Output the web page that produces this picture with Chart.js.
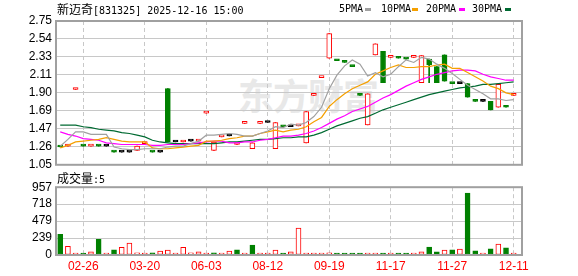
<!DOCTYPE html>
<html lang="zh-CN">
<head>
  <meta charset="UTF-8" />
  <title>新迈奇 831325</title>
  <script src="https://cdn.jsdelivr.net/npm/chart.js"></script>
  <style>
    body { margin: 0; background: #fff; }
    #wrap {
      position: relative;
      width: 578px;
      height: 276px;
      overflow: hidden;
      font-family: 'DejaVu Sans Mono', monospace;
      color: #000;
    }
    #wrap canvas { position: absolute; left: 0; }
    #priceChart { top: 0; }
    #volChart { top: 176px; }
    .lbl { position: absolute; font-size: 10px; line-height: 12px; white-space: pre; }
    .cjk { font-family: 'Noto Sans CJK SC', sans-serif; font-size: 12px; }
    .key { position: absolute; width: 6px; height: 3px; }
    #mark {
      position: absolute;
      left: 238px;
      top: 68px;
      font: bold 36px 'Noto Sans CJK SC', sans-serif;
      color: #e8e8e8;
      letter-spacing: -1px;
    }
  </style>
</head>
<body>
  <div id="wrap">
    <div id="mark">东方财富</div>
    <canvas id="priceChart" width="578" height="176"></canvas>
    <canvas id="volChart" width="578" height="100"></canvas>

    <div class="lbl" style="left:57px;top:3px"><span class="cjk">新迈奇</span>[831325] 2025-12-16 15:00</div>

    <div class="lbl" style="left:339px;top:3px">5PMA</div>
    <div class="key" style="left:365px;top:8px;background:#a0a0a0"></div>
    <div class="lbl" style="left:381px;top:3px">10PMA</div>
    <div class="key" style="left:412px;top:8px;background:#f5a000"></div>
    <div class="lbl" style="left:426px;top:3px">20PMA</div>
    <div class="key" style="left:459px;top:8px;background:#ff00ff"></div>
    <div class="lbl" style="left:472px;top:3px">30PMA</div>
    <div class="key" style="left:505px;top:8px;background:#006a32"></div>

    <div class="lbl" id="volLbl" style="left:57px;top:172px"></div>
  </div>

  <script>
    // tick labels
    const priceTickLabels = ['1.05', '1.26', '1.47', '1.69', '1.90', '2.11', '2.33', '2.54', '2.75'];
    const volTickLabels = ['0', '239', '479', '718', '957'];
    const dateTickIdx = [3, 11, 19, 27, 35, 43, 51, 59];
    const dateTickLabels = ['02-26', '03-20', '06-03', '08-12', '09-19', '11-17', '11-27', '12-11'];

    // daily k-line, one entry per trading day
    const openP = [
      1.27, 1.27, 1.94, 1.28, 1.27, 1.28, 1.27, 1.21, 1.20, 1.20,
      1.22, 1.30, 1.21, 1.20, 1.95, 1.32, 1.32, 1.33, 1.33, 1.66,
      1.22, 1.38, 1.39, 1.29, 1.54, 1.24, 1.54, 1.55, 1.24, 1.51,
      1.50, 1.51, 1.31, 1.87, 2.08, 2.31, 2.29, 2.27, 2.22, 1.88,
      1.52, 2.35, 2.39, 2.32, 2.32, 2.31, 2.32, 2.02, 2.30, 2.21,
      2.35, 2.02, 2.01, 2.01, 1.81, 1.80, 1.80, 1.73, 1.74, 1.87
    ];
    const closeP = [
      1.26, 1.29, 1.95, 1.27, 1.28, 1.27, 1.27, 1.20, 1.20, 1.20,
      1.27, 1.31, 1.20, 1.20, 1.32, 1.32, 1.33, 1.33, 1.34, 1.67,
      1.32, 1.39, 1.39, 1.30, 1.55, 1.31, 1.55, 1.55, 1.55, 1.50,
      1.50, 1.52, 1.68, 1.88, 2.09, 2.60, 2.28, 2.26, 2.21, 1.87,
      1.89, 2.48, 2.02, 2.33, 2.31, 2.30, 2.33, 2.34, 2.23, 2.02,
      2.04, 2.01, 2.01, 1.85, 1.80, 1.80, 1.70, 2.00, 1.73, 1.88
    ];
    const highP = [
      1.27, 1.29, 1.95, 1.28, 1.28, 1.28, 1.27, 1.21, 1.20, 1.20,
      1.27, 1.31, 1.21, 1.20, 1.95, 1.32, 1.33, 1.33, 1.34, 1.67,
      1.32, 1.39, 1.39, 1.30, 1.55, 1.31, 1.55, 1.55, 1.55, 1.51,
      1.50, 1.52, 1.68, 1.88, 2.09, 2.60, 2.29, 2.27, 2.22, 1.88,
      1.89, 2.48, 2.39, 2.33, 2.32, 2.31, 2.33, 2.34, 2.30, 2.21,
      2.35, 2.02, 2.01, 2.01, 1.81, 1.80, 1.80, 2.00, 1.74, 1.88
    ];
    const lowP = [
      1.26, 1.27, 1.94, 1.27, 1.27, 1.27, 1.27, 1.20, 1.20, 1.20,
      1.22, 1.30, 1.20, 1.20, 1.32, 1.32, 1.32, 1.33, 1.33, 1.66,
      1.22, 1.38, 1.39, 1.29, 1.54, 1.24, 1.54, 1.55, 1.24, 1.50,
      1.50, 1.51, 1.31, 1.87, 2.08, 2.31, 2.28, 2.26, 2.21, 1.87,
      1.52, 2.35, 2.02, 2.32, 2.31, 2.30, 2.32, 2.02, 2.02, 2.02,
      2.04, 2.01, 2.01, 1.85, 1.80, 1.80, 1.70, 1.73, 1.73, 1.87
    ];
    const volume = [
      290, 122, 15, 15, 45, 222, 15, 72, 109, 168,
      32, 15, 32, 54, 68, 12, 109, 32, 45, 12,
      32, 12, 54, 72, 12, 140, 12, 12, 68, 10,
      45, 380, 12, 12, 12, 32, 12, 12, 12, 12,
      12, 12, 12, 12, 12, 12, 12, 45, 113, 45,
      68, 72, 82, 874, 59, 12, 86, 154, 100, 5
    ];

    // moving averages as drawn
    const ma5 = [
      1.27, 1.35, 1.44, 1.44, 1.41, 1.41, 1.41, 1.26, 1.24, 1.23,
      1.23, 1.24, 1.24, 1.24, 1.26, 1.27, 1.27, 1.30, 1.33, 1.40,
      1.40, 1.41, 1.42, 1.41, 1.39, 1.39, 1.42, 1.45, 1.50, 1.49,
      1.53, 1.52, 1.55, 1.62, 1.73, 1.95, 2.11, 2.22, 2.29, 2.24,
      2.10, 2.14, 2.09, 2.12, 2.21, 2.29, 2.26, 2.32, 2.30, 2.24,
      2.19, 2.13, 2.06, 1.99, 1.94, 1.89, 1.83, 1.83, 1.81, 1.82
    ];
    const ma10 = [
      1.25, 1.28, 1.32, 1.33, 1.34, 1.35, 1.37, 1.35, 1.33, 1.32,
      1.32, 1.32, 1.25, 1.24, 1.24, 1.25, 1.26, 1.27, 1.28, 1.33,
      1.33, 1.34, 1.36, 1.37, 1.39, 1.39, 1.42, 1.44, 1.46, 1.44,
      1.46, 1.47, 1.50, 1.56, 1.61, 1.74, 1.82, 1.89, 1.95, 1.99,
      2.03, 2.12, 2.16, 2.20, 2.23, 2.20, 2.20, 2.21, 2.21, 2.23,
      2.24, 2.19, 2.19, 2.14, 2.09, 2.04, 1.98, 1.95, 1.90, 1.88
    ];
    const ma20 = [
      1.44, 1.41, 1.39, 1.36, 1.35, 1.34, 1.31, 1.30, 1.29, 1.29,
      1.29, 1.29, 1.28, 1.28, 1.29, 1.29, 1.29, 1.30, 1.31, 1.32,
      1.33, 1.33, 1.31, 1.31, 1.32, 1.32, 1.34, 1.35, 1.37, 1.39,
      1.39, 1.40, 1.42, 1.45, 1.49, 1.54, 1.59, 1.63, 1.68, 1.71,
      1.74, 1.79, 1.84, 1.88, 1.93, 1.98, 2.02, 2.06, 2.09, 2.12,
      2.14, 2.16, 2.17, 2.17, 2.16, 2.12, 2.09, 2.07, 2.05, 2.05
    ];
    const ma30 = [
      1.52, 1.52, 1.52, 1.50, 1.49, 1.47, 1.46, 1.45, 1.43, 1.42,
      1.40, 1.38, 1.34, 1.32, 1.31, 1.30, 1.30, 1.30, 1.30, 1.30,
      1.30, 1.31, 1.32, 1.32, 1.33, 1.34, 1.35, 1.35, 1.36, 1.37,
      1.37, 1.38, 1.38, 1.40, 1.43, 1.47, 1.51, 1.54, 1.57, 1.60,
      1.62, 1.66, 1.70, 1.73, 1.76, 1.79, 1.82, 1.85, 1.88, 1.90,
      1.92, 1.94, 1.96, 1.97, 1.98, 2.00, 2.00, 2.01, 2.02, 2.03
    ];

    const RED = '#ff0000', GREEN = '#008000', BLACK = '#000000';
    const idx = closeP.map((c, i) => i);

    // candle colour: close vs open; volume colour: close vs previous close
    const candleColor = closeP.map((c, i) => c > openP[i] ? RED : (c < openP[i] ? GREEN : BLACK));
    const bodyFill = candleColor.map(c => c === RED ? '#ffffff' : c);
    const volColor = closeP.map((c, i) => c < (i ? closeP[i - 1] : openP[i]) ? GREEN : RED);
    const volFill = volColor.map(c => c === RED ? '#ffffff' : c);

    document.getElementById('volLbl').innerHTML =
      '<span class="cjk">成交量</span>:' + volume[volume.length - 1];

    Chart.defaults.font.family = "'Liberation Sans', Arial, sans-serif";
    Chart.defaults.font.size = 12;
    Chart.defaults.color = '#000';

    const GRID = '#c8c8c8';
    const X_MIN = -0.55, X_MAX = 60.08;

    // grey box round the plot area
    const frame = {
      id: 'frame',
      afterDraw(chart) {
        const a = chart.chartArea, ctx = chart.ctx;
        ctx.save();
        ctx.strokeStyle = '#a0a0a0';
        ctx.lineWidth = 2;
        ctx.strokeRect(a.left, a.top, a.right - a.left, a.bottom - a.top);
        ctx.restore();
      }
    };

    function dayAxis(showLabels, height) {
      return {
        type: 'linear',
        min: X_MIN,
        max: X_MAX,
        offset: false,
        afterBuildTicks: s => { s.ticks = dateTickIdx.map(v => ({ value: v })); },
        afterFit: s => { s.height = height; },
        ticks: {
          display: showLabels,
          autoSkip: false,
          maxRotation: 0,
          padding: 4,
          color: RED,
          callback: v => dateTickLabels[dateTickIdx.indexOf(v)]
        },
        grid: { offset: false, color: GRID, drawTicks: false, borderDash: [4, 3] },
        border: { display: false, dash: [4, 3] }
      };
    }

    function valueAxis(min, max, labels) {
      const step = (max - min) / (labels.length - 1);
      return {
        min: min,
        max: max,
        beginAtZero: false,
        afterBuildTicks: s => { s.ticks = labels.map((l, k) => ({ value: min + k * step })); },
        afterFit: s => { s.width = 56; },
        ticks: { autoSkip: false, padding: 4, callback: (v, k) => labels[k] },
        grid: { color: GRID, drawTicks: false },
        border: { display: false }
      };
    }

    const common = {
      responsive: false,
      animation: false,
      events: [],
      plugins: { legend: { display: false }, tooltip: { enabled: false } }
    };

    function maLine(label, values, color) {
      return {
        type: 'line',
        label: label,
        data: idx.map(i => ({ x: i, y: values[i] })),
        borderColor: color,
        borderWidth: 1.2,
        pointRadius: 0,
        tension: 0,
        order: 0
      };
    }

    new Chart(document.getElementById('priceChart'), {
      type: 'bar',
      data: {
        datasets: [
          maLine('5PMA', ma5, '#a0a0a0'),
          maLine('10PMA', ma10, '#f5a000'),
          maLine('20PMA', ma20, '#ff00ff'),
          maLine('30PMA', ma30, '#006a32'),
          {
            label: 'body',
            data: idx.map(i => ({ x: i, y: [openP[i], closeP[i]] })),
            backgroundColor: bodyFill,
            borderColor: candleColor,
            borderWidth: 1,
            borderSkipped: false,
            barThickness: 5,
            minBarLength: 2,
            grouped: false,
            order: 1
          },
          {
            label: 'wick',
            data: idx.map(i => ({ x: i, y: [lowP[i], highP[i]] })),
            backgroundColor: candleColor,
            barThickness: 1,
            grouped: false,
            order: 2
          }
        ]
      },
      options: Object.assign({}, common, {
        layout: { padding: { top: 21, right: 56, bottom: 11, left: 0 } },
        scales: {
          x: dayAxis(false, 0),
          y: valueAxis(1.05, 2.75, priceTickLabels)
        }
      }),
      plugins: [frame]
    });

    new Chart(document.getElementById('volChart'), {
      type: 'bar',
      data: {
        datasets: [{
          label: 'volume',
          data: idx.map(i => ({ x: i, y: volume[i] })),
          backgroundColor: volFill,
          borderColor: volColor,
          borderWidth: 1,
          borderSkipped: false,
          barThickness: 5,
          minBarLength: 2,
          grouped: false
        }]
      },
      options: Object.assign({}, common, {
        layout: { padding: { top: 10, right: 56, bottom: 0, left: 0 } },
        scales: {
          x: dayAxis(true, 21),
          y: valueAxis(0, 957, volTickLabels)
        }
      }),
      plugins: [frame]
    });
  </script>
</body>
</html>
